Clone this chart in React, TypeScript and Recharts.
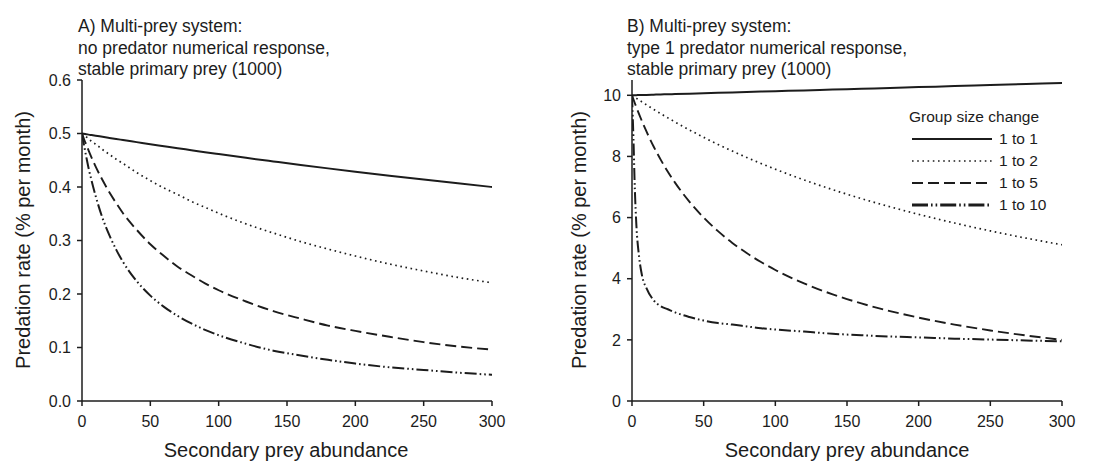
import React from "react";
import { LineChart, Line, XAxis, YAxis } from "recharts";

const xs = [0, 1, 2, 3, 5, 7, 10, 15, 20, 25, 30, 40, 50, 60, 70, 80, 90, 100, 120, 140, 160, 180, 200, 225, 250, 275, 300];
const xTicks = [0, 50, 100, 150, 200, 250, 300];
const leftYTicks = [0, 0.1, 0.2, 0.3, 0.4, 0.5, 0.6];
const rightYTicks = [0, 2, 4, 6, 8, 10];
const seriesNames = ["1 to 1", "1 to 2", "1 to 5", "1 to 10"];

// Panel A: no predator numerical response
const aOne = [0.5, 0.4996, 0.4992, 0.4988, 0.4979, 0.4971, 0.4959, 0.4938, 0.4918, 0.4898, 0.4878, 0.4839, 0.48, 0.4762, 0.4724, 0.4688, 0.4651, 0.4615, 0.4545, 0.4478, 0.4412, 0.4348, 0.4286, 0.4211, 0.4138, 0.4068, 0.4];
const aTwo = [0.5, 0.498, 0.496, 0.494, 0.49, 0.485, 0.48, 0.47, 0.461, 0.452, 0.444, 0.427, 0.412, 0.398, 0.386, 0.373, 0.362, 0.351, 0.331, 0.314, 0.298, 0.284, 0.271, 0.256, 0.243, 0.231, 0.221];
const aFive = [0.5, 0.493, 0.486, 0.48, 0.467, 0.455, 0.438, 0.413, 0.39, 0.37, 0.351, 0.32, 0.293, 0.271, 0.251, 0.235, 0.22, 0.207, 0.186, 0.168, 0.154, 0.141, 0.131, 0.12, 0.11, 0.102, 0.096];
const aTen = [0.5, 0.485, 0.471, 0.458, 0.433, 0.412, 0.383, 0.342, 0.31, 0.283, 0.26, 0.224, 0.197, 0.176, 0.159, 0.145, 0.133, 0.123, 0.107, 0.094, 0.085, 0.077, 0.07, 0.063, 0.058, 0.053, 0.049];

// Panel B: type 1 predator numerical response
const bOne = [10, 10.001, 10.003, 10.004, 10.007, 10.009, 10.013, 10.02, 10.027, 10.033, 10.04, 10.053, 10.067, 10.08, 10.093, 10.107, 10.12, 10.133, 10.16, 10.187, 10.213, 10.24, 10.267, 10.3, 10.333, 10.367, 10.4];
const bTwo = [10, 9.968, 9.937, 9.905, 9.843, 9.782, 9.691, 9.543, 9.4, 9.261, 9.127, 8.869, 8.624, 8.393, 8.175, 7.967, 7.77, 7.582, 7.232, 6.913, 6.621, 6.353, 6.105, 5.822, 5.563, 5.327, 5.11];
const bFive = [10, 9.868, 9.74, 9.615, 9.375, 9.146, 8.824, 8.333, 7.895, 7.5, 7.143, 6.522, 6.0, 5.556, 5.172, 4.839, 4.545, 4.286, 3.846, 3.488, 3.191, 2.941, 2.727, 2.5, 2.308, 2.143, 2.0];
const bTen = [10, 8.6, 6.9, 5.8, 4.7, 4.1, 3.7, 3.3, 3.1, 3.0, 2.9, 2.75, 2.63, 2.55, 2.5, 2.44, 2.38, 2.34, 2.27, 2.2, 2.15, 2.11, 2.08, 2.04, 2.01, 1.98, 1.95];

const dataA = xs.map((x, i) => ({ x, s1: aOne[i], s2: aTwo[i], s5: aFive[i], s10: aTen[i] }));
const dataB = xs.map((x, i) => ({ x, s1: bOne[i], s2: bTwo[i], s5: bFive[i], s10: bTen[i] }));

const FONT = "'Liberation Sans', Arial, Helvetica, sans-serif";
const INK = "#1c1c1c";

const styles = [
  { key: "s1", dash: undefined as string | undefined, width: 2 },
  { key: "s2", dash: "1.6 3.6", width: 1.7 },
  { key: "s5", dash: "11 5", width: 1.9 },
  { key: "s10", dash: "12 3 1.6 3 1.6 3", width: 2 },
];

const tickStyle = { fontSize: 16, fill: INK, fontFamily: FONT };

function Lines() {
  return styles.map((s, i) => (
    <Line
      key={s.key}
      dataKey={s.key}
      name={seriesNames[i]}
      type="monotone"
      stroke={INK}
      strokeWidth={s.width}
      strokeDasharray={s.dash}
      dot={false}
      activeDot={false}
      isAnimationActive={false}
    />
  ));
}

function LegendBox() {
  return (
    <div style={{ fontFamily: FONT, color: INK }}>
      <div style={{ fontSize: 15.5, lineHeight: "22px", marginLeft: -3 }}>Group size change</div>
      {styles.map((s, i) => (
        <div key={s.key} style={{ display: "flex", alignItems: "center", height: 22 }}>
          <svg width={81} height={10} style={{ display: "block" }}>
            <line
              x1={0}
              y1={5}
              x2={80}
              y2={5}
              stroke={INK}
              strokeWidth={s.key === "s10" ? 2.8 : s.width}
              strokeDasharray={s.key === "s10" ? "16 3 1.6 3 1.6 3" : s.dash}
            />
          </svg>
          <span style={{ fontSize: 15.5, marginLeft: 6 }}>{seriesNames[i]}</span>
        </div>
      ))}
    </div>
  );
}

const titleStyle: React.CSSProperties = {
  position: "absolute",
  fontFamily: FONT,
  fontSize: 17.5,
  lineHeight: "21.5px",
  color: INK,
  whiteSpace: "pre",
};

const xLabelStyle: React.CSSProperties = {
  position: "absolute",
  fontFamily: FONT,
  fontSize: 20,
  color: INK,
  whiteSpace: "pre",
  transform: "translate(-50%, -50%)",
};

const yLabelStyle: React.CSSProperties = {
  position: "absolute",
  fontFamily: FONT,
  fontSize: 20,
  color: INK,
  whiteSpace: "pre",
  transform: "translate(-50%, -50%) rotate(-90deg)",
};

function XAx() {
  return (
    <XAxis
      dataKey="x"
      type="number"
      domain={[0, 300]}
      ticks={xTicks}
      height={30}
      tickSize={5}
      tickMargin={10}
      stroke={INK}
      strokeWidth={1.5}
      tick={tickStyle}
      allowDataOverflow
    />
  );
}

export default function App() {
  return (
    <div style={{ position: "absolute", left: 0, top: 0, width: 1094, height: 461, background: "#fff", overflow: "hidden" }}>
      <div style={{ ...titleStyle, left: 78, top: 16 }}>
        {"A) Multi-prey system:\nno predator numerical response,\nstable primary prey (1000)"}
      </div>
      <div style={{ ...titleStyle, left: 627, top: 16 }}>
        {"B) Multi-prey system:\ntype 1 predator numerical response,\nstable primary prey (1000)"}
      </div>

      <div style={{ position: "absolute", left: 0, top: 0 }}>
        <LineChart width={540} height={461} data={dataA} margin={{ top: 80, right: 48, bottom: 30, left: 22 }}>
          {XAx()}
          <YAxis
            type="number"
            domain={[0, 0.6]}
            ticks={leftYTicks}
            width={60}
            tickSize={5}
            tickMargin={6}
            stroke={INK}
            strokeWidth={1.5}
            tick={tickStyle}
            tickFormatter={(v: number) => v.toFixed(1)}
            allowDataOverflow
          />
          {Lines()}
        </LineChart>
      </div>

      <div style={{ position: "absolute", left: 540, top: 0 }}>
        <LineChart width={554} height={461} data={dataB} margin={{ top: 80, right: 32, bottom: 30, left: 32 }}>
          {XAx()}
          <YAxis
            type="number"
            domain={[0, 10.5]}
            ticks={rightYTicks}
            width={60}
            tickSize={5}
            tickMargin={6}
            stroke={INK}
            strokeWidth={1.5}
            tick={tickStyle}
            allowDataOverflow
          />
          {Lines()}
        </LineChart>
      </div>

      <div style={{ position: "absolute", left: 912, top: 106 }}>
        <LegendBox />
      </div>

      <div style={{ ...xLabelStyle, left: 286, top: 450 }}>Secondary prey abundance</div>
      <div style={{ ...xLabelStyle, left: 847, top: 450 }}>Secondary prey abundance</div>
      <div style={{ ...yLabelStyle, left: 23, top: 240 }}>Predation rate (% per month)</div>
      <div style={{ ...yLabelStyle, left: 579, top: 240 }}>Predation rate (% per month)</div>
    </div>
  );
}
